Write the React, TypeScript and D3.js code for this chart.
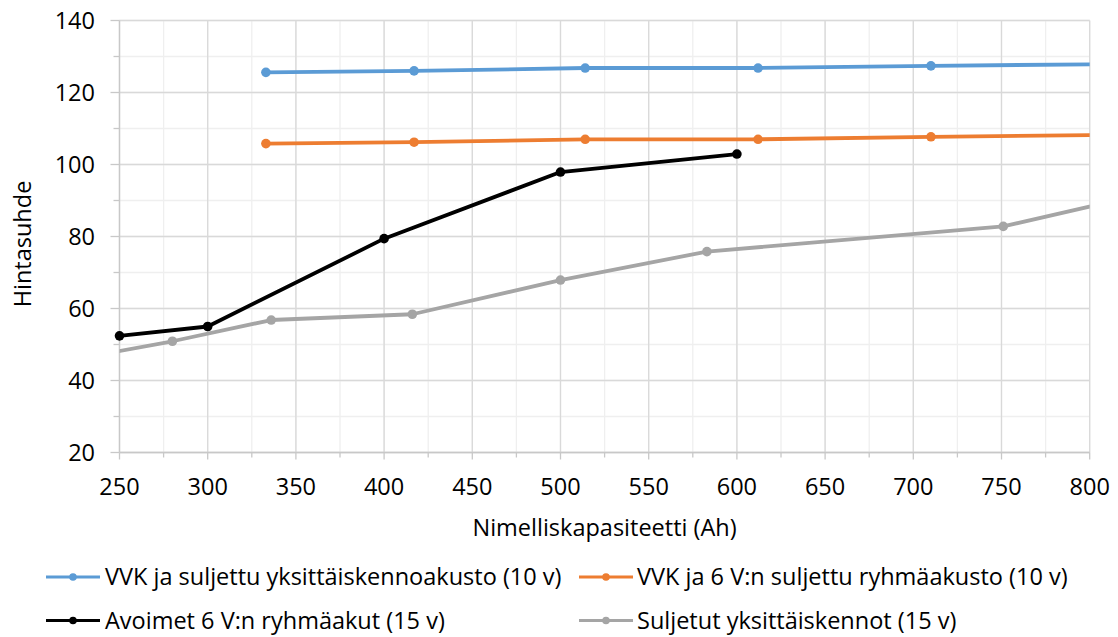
import React from "react";
import * as d3 from "d3";

const W = 1118;
const H = 637;

// Series data (x = Nimelliskapasiteetti (Ah), y = Hintasuhde)
const blueX = [333, 417, 514, 612, 710, 833];
const blueY = [125.6, 126.0, 126.8, 126.8, 127.4, 128.0];
const orangeX = [333, 417, 514, 612, 710, 833];
const orangeY = [105.8, 106.2, 107.0, 107.0, 107.7, 108.3];
const blackX = [250, 300, 400, 500, 600];
const blackY = [52.4, 55.0, 79.4, 97.9, 102.9];
const grayX = [220, 280, 336, 416, 500, 583, 751, 833];
const grayY = [45.5, 50.9, 56.8, 58.4, 67.9, 75.8, 82.8, 92.0];

const seriesNames = [
  "VVK ja suljettu yksittäiskennoakusto (10 v)",
  "VVK ja 6 V:n suljettu ryhmäakusto (10 v)",
  "Avoimet 6 V:n ryhmäakut (15 v)",
  "Suljetut yksittäiskennot (15 v)",
];
const seriesColors = ["#5b9bd5", "#ed7d31", "#000000", "#a5a5a5"];

const xTicks = [250, 300, 350, 400, 450, 500, 550, 600, 650, 700, 750, 800];
const yTicks = [20, 40, 60, 80, 100, 120, 140];
const xMinorTicks = d3.range(250, 801, 25);
const yMinorTicks = d3.range(20, 141, 10);

const xTitle = "Nimelliskapasiteetti (Ah)";
const yTitle = "Hintasuhde";

const FONT = "'Open Sans', 'Noto Sans', sans-serif";
const FS = 23.5;

export default function App() {
  const left = 119.5;
  const right = 1089.7;
  const top = 20.5;
  const bottom = 452.5;
  const x = d3.scaleLinear().domain([250, 800]).range([left, right]);
  const y = d3.scaleLinear().domain([20, 140]).range([bottom, top]);

  const series = [
    { xs: blueX, ys: blueY },
    { xs: orangeX, ys: orangeY },
    { xs: blackX, ys: blackY },
    { xs: grayX, ys: grayY },
  ].map((s, i) => ({
    pts: s.xs.map((v, j) => [v, s.ys[j]] as [number, number]),
    color: seriesColors[i],
    name: seriesNames[i],
  }));

  const line = d3
    .line<[number, number]>()
    .x((d) => x(d[0]))
    .y((d) => y(d[1]));

  const legendItems = [
    { i: 0, sx: 46, tx: 105, cy: 577 },
    { i: 1, sx: 579, tx: 637, cy: 577 },
    { i: 2, sx: 46, tx: 105, cy: 620.5 },
    { i: 3, sx: 579, tx: 637, cy: 620.5 },
  ];

  return (
    <svg
      width={W}
      height={H}
      style={{ position: "absolute", left: 0, top: 0, background: "#fff" }}
      fontFamily={FONT}
    >
      <defs>
        <clipPath id="plotClip">
          <rect x={left} y={top} width={right - left} height={bottom - top} />
        </clipPath>
      </defs>
      <rect x={0} y={0} width={W} height={H} fill="#fff" />
      {/* minor gridlines */}
      {xMinorTicks.map((t) => (
        <line key={"xm" + t} x1={x(t)} x2={x(t)} y1={top} y2={bottom} stroke="#efefef" strokeWidth={1.3} />
      ))}
      {yMinorTicks.map((t) => (
        <line key={"ym" + t} x1={left} x2={right} y1={y(t)} y2={y(t)} stroke="#efefef" strokeWidth={1.3} />
      ))}
      {/* major gridlines */}
      {xTicks.map((t) => (
        <line key={"xg" + t} x1={x(t)} x2={x(t)} y1={top} y2={bottom} stroke="#d9d9d9" strokeWidth={1.3} />
      ))}
      {yTicks.map((t) => (
        <line key={"yg" + t} x1={left} x2={right} y1={y(t)} y2={y(t)} stroke="#d9d9d9" strokeWidth={1.3} />
      ))}
      {/* axes */}
      <line x1={left} x2={left} y1={top} y2={bottom} stroke="#c8c8c8" strokeWidth={1.3} />
      <line x1={left} x2={right} y1={bottom} y2={bottom} stroke="#c8c8c8" strokeWidth={1.3} />
      {yMinorTicks.map((t) => (
        <line key={"ytm" + t} x1={left - (t % 20 === 0 ? 9 : 6)} x2={left} y1={y(t)} y2={y(t)} stroke="#c8c8c8" strokeWidth={1.3} />
      ))}
      {xMinorTicks.map((t) => (
        <line key={"xtm" + t} x1={x(t)} x2={x(t)} y1={bottom} y2={bottom + (t % 50 === 0 ? 7 : 5)} stroke="#c8c8c8" strokeWidth={1.3} />
      ))}
      {/* tick labels */}
      {yTicks.map((t) => (
        <text key={"yl" + t} x={95} y={y(t)} dy="0.35em" textAnchor="end" fontSize={FS} fill="#000">
          {t}
        </text>
      ))}
      {xTicks.map((t) => (
        <text key={"xl" + t} x={x(t)} y={487} dy="0.35em" textAnchor="middle" fontSize={FS} fill="#000">
          {t}
        </text>
      ))}
      {/* axis titles */}
      <text x={(left + right) / 2} y={528} dy="0.35em" textAnchor="middle" fontSize={FS} fill="#000">
        {xTitle}
      </text>
      <text
        transform={`translate(23, 244) rotate(-90)`}
        dy="0.35em"
        textAnchor="middle"
        fontSize={FS}
        fill="#000"
      >
        {yTitle}
      </text>
      {/* series lines */}
      <g clipPath="url(#plotClip)">
        {series.map((s, i) => (
          <path key={"l" + i} d={line(s.pts) || ""} fill="none" stroke={s.color} strokeWidth={3.8} strokeLinejoin="round" />
        ))}
      </g>
      {/* markers */}
      {series.map((s, i) => (
        <g key={"m" + i}>
          {s.pts
            .filter((p) => p[0] >= 250 && p[0] <= 800)
            .map((p, j) => (
              <circle key={j} cx={x(p[0])} cy={y(p[1])} r={4.8} fill={s.color} />
            ))}
        </g>
      ))}
      {/* legend */}
      {legendItems.map((it) => (
        <g key={"lg" + it.i}>
          <line x1={it.sx} x2={it.sx + 54} y1={it.cy} y2={it.cy} stroke={seriesColors[it.i]} strokeWidth={3.2} />
          <circle cx={it.sx + 27} cy={it.cy} r={3.8} fill={seriesColors[it.i]} />
          <text x={it.tx} y={it.cy} dy="0.35em" fontSize={FS} fill="#000">
            {seriesNames[it.i]}
          </text>
        </g>
      ))}
    </svg>
  );
}
